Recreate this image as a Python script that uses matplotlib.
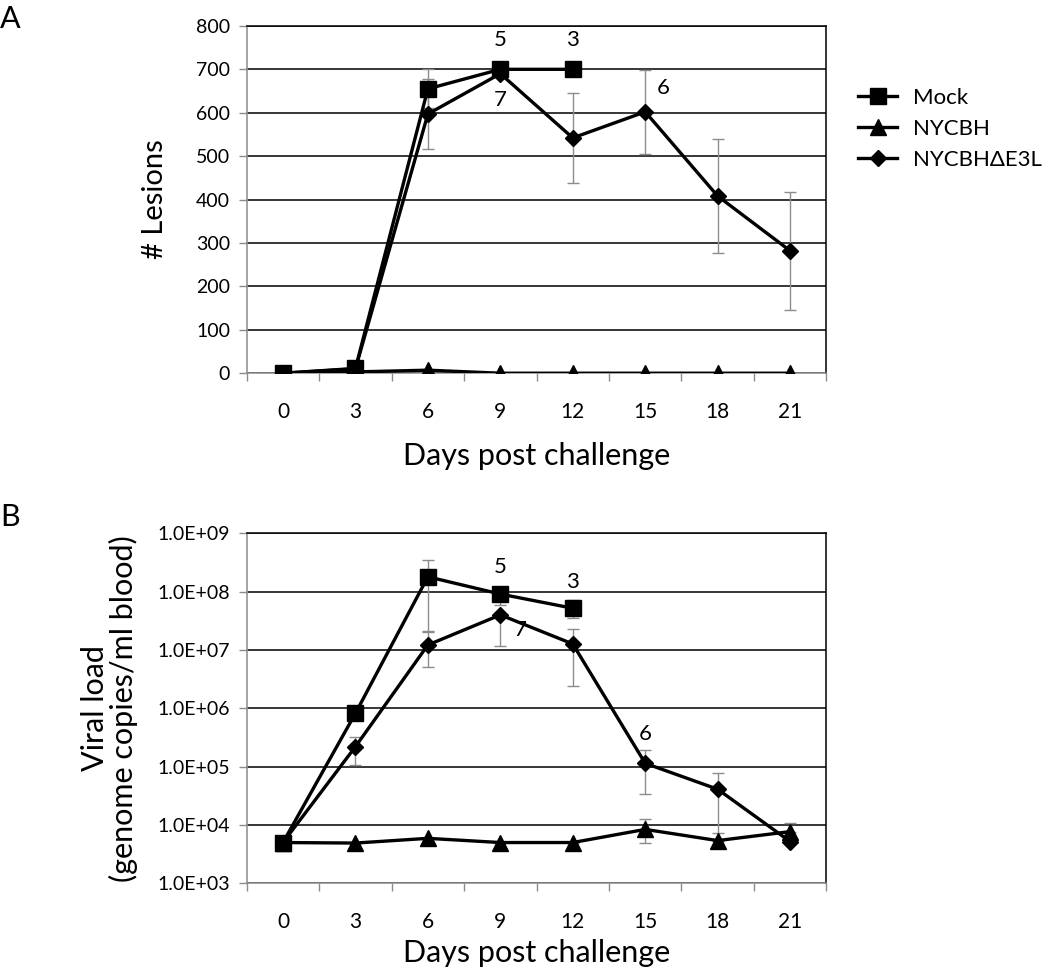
import numpy as np
import matplotlib
matplotlib.use("Agg")
from matplotlib import pyplot as plt
from matplotlib.ticker import FixedLocator, NullFormatter

plt.rcParams['font.family'] = ['Lato', 'DejaVu Sans']

# dias apos o desafio
dias = [0, 3, 6, 9, 12, 15, 18, 21]

# A: numero de lesoes
lesoes_mock = [0, 11, 655, 700, 700]
lesoes_mock_err = [0, 0, 45, 0, 0]
lesoes_nycbh = [0, 3, 7, 0, 0, 0, 0, 0]
lesoes_e3l = [0, 10, 597, 690, 542, 602, 408, 282]
lesoes_e3l_err = [0, 0, 80, 0, 104, 97, 132, 136]

# B: carga viral
carga_mock = [5.0e3, 8.2e5, 1.8e8, 9.1e7, 5.2e7]
carga_mock_lo = [5.0e3, 8.2e5, 2.0e7, 5.8e7, 3.5e7]
carga_mock_hi = [5.0e3, 8.2e5, 3.5e8, 9.1e7, 7.2e7]
carga_nycbh = [5.0e3, 4.9e3, 5.9e3, 5.0e3, 5.0e3, 8.4e3, 5.4e3, 7.7e3]
carga_nycbh_lo = [5.0e3, 4.9e3, 5.9e3, 5.0e3, 5.0e3, 5.0e3, 5.4e3, 7.7e3]
carga_nycbh_hi = [5.0e3, 4.9e3, 5.9e3, 5.0e3, 5.0e3, 1.25e4, 5.4e3, 1.1e4]
carga_e3l = [5.0e3, 2.2e5, 1.22e7, 4.0e7, 1.27e7, 1.14e5, 4.1e4, 5.2e3]
carga_e3l_lo = [5.0e3, 1.07e5, 5.1e6, 1.15e7, 2.4e6, 3.4e4, 7.4e3, 5.2e3]
carga_e3l_hi = [5.0e3, 3.2e5, 2.1e7, 4.0e7, 2.3e7, 1.93e5, 7.7e4, 5.2e3]

pos = np.arange(len(dias))
cinza = "#8c8c8c"
estilo = dict(color="black", linewidth=2.4, zorder=4)

fig = plt.figure(figsize=(10.5, 9.77), dpi=100)
axA = fig.add_axes([0.235, 0.618, 0.552, 0.3555])
axB = fig.add_axes([0.235, 0.0959, 0.552, 0.3582])


def barras(ax, x, y, lo, hi):
    y = np.array(y)
    ax.errorbar(x, y, yerr=[y - np.array(lo), np.array(hi) - y], fmt="none",
                ecolor=cinza, elinewidth=1, capsize=4, capthick=1, zorder=3)


# ---- painel A
axA.errorbar(pos[:5], lesoes_mock, yerr=lesoes_mock_err, fmt="none", ecolor=cinza,
             elinewidth=1, capsize=4, capthick=1, zorder=3)
axA.errorbar(pos, lesoes_e3l, yerr=lesoes_e3l_err, fmt="none", ecolor=cinza,
             elinewidth=1, capsize=4, capthick=1, zorder=3)
lm, = axA.plot(pos[:5], lesoes_mock, marker="s", markersize=11, label="Mock", **estilo)
ln, = axA.plot(pos, lesoes_nycbh, marker="^", markersize=11, label="NYCBH", **estilo)
le, = axA.plot(pos, lesoes_e3l, marker="D", markersize=8, label="NYCBH\u0394E3L", **estilo)
axA.set_ylim(0, 800)
axA.set_yticks(range(0, 801, 100))
axA.set_ylabel("# Lesions", fontsize=21, labelpad=20)

# numero de animais
axA.annotate("5", (pos[3], lesoes_mock[3]), xytext=(0, 14), textcoords="offset points",
             ha="center", va="bottom", fontsize=16)
axA.annotate("3", (pos[4], lesoes_mock[4]), xytext=(0, 14), textcoords="offset points",
             ha="center", va="bottom", fontsize=16)
axA.annotate("7", (pos[3], lesoes_e3l[3]), xytext=(0, -12), textcoords="offset points",
             ha="center", va="top", fontsize=16)
axA.annotate("6", (pos[5], lesoes_e3l[5]), xytext=(8, 10), textcoords="offset points",
             ha="left", va="bottom", fontsize=16)

# ---- painel B
barras(axB, pos[:5], carga_mock, carga_mock_lo, carga_mock_hi)
barras(axB, pos, carga_nycbh, carga_nycbh_lo, carga_nycbh_hi)
barras(axB, pos, carga_e3l, carga_e3l_lo, carga_e3l_hi)
axB.plot(pos[:5], carga_mock, marker="s", markersize=11, **estilo)
axB.plot(pos, carga_nycbh, marker="^", markersize=11, **estilo)
axB.plot(pos, carga_e3l, marker="D", markersize=8, **estilo)
axB.set_yscale("log")
axB.set_ylim(1e3, 1e9)
axB.set_yticks([10.0 ** k for k in range(3, 10)])
axB.set_yticklabels(["1.0E+%02d" % k for k in range(3, 10)])
axB.yaxis.set_minor_locator(FixedLocator([]))
axB.set_ylabel("Viral load\n(genome copies/ml blood)", fontsize=22, labelpad=14,
               linespacing=1.0)

axB.annotate("5", (pos[3], carga_mock[3]), xytext=(0, 12), textcoords="offset points",
             ha="center", va="bottom", fontsize=16)
axB.annotate("3", (pos[4], carga_mock[4]), xytext=(0, 12), textcoords="offset points",
             ha="center", va="bottom", fontsize=16)
axB.annotate("7", (pos[3], carga_e3l[3]), xytext=(10, -4), textcoords="offset points",
             ha="left", va="top", fontsize=16)
axB.annotate("6", (pos[5], carga_e3l[5]), xytext=(0, 14), textcoords="offset points",
             ha="center", va="bottom", fontsize=16)

for ax in (axA, axB):
    ax.set_xlim(-0.5, len(dias) - 0.5)
    ax.set_xticks(pos)
    ax.set_xticklabels([str(d) for d in dias])
    ax.xaxis.set_minor_locator(FixedLocator(np.arange(-0.5, len(dias), 1)))
    ax.xaxis.set_minor_formatter(NullFormatter())
    ax.tick_params(axis="x", which="major", length=0, pad=21, labelsize=15)
    ax.tick_params(axis="x", which="minor", length=6, color=cinza, width=1)
    ax.tick_params(axis="y", which="major", length=6, color=cinza, width=1, labelsize=14, pad=6)
    ax.grid(True, axis="y", color="black", linewidth=1.1, zorder=0)
    ax.set_axisbelow(True)
    ax.spines["left"].set_color(cinza)
    ax.spines["bottom"].set_color(cinza)
    ax.spines["top"].set_color("black")
    ax.spines["right"].set_color("black")
    for s in ax.spines.values():
        s.set_linewidth(1.1)

axA.set_xlabel("Days post challenge", fontsize=22, labelpad=14)
axB.set_xlabel("Days post challenge", fontsize=22, labelpad=5)

fig.legend(handles=[lm, ln, le], loc="upper left", bbox_to_anchor=(0.809, 0.919),
           frameon=False, fontsize=16, handlelength=1.75, labelspacing=0.5,
           handletextpad=0.7, borderaxespad=0)

fig.text(0.0, 0.995, "A", fontsize=22, va="top", ha="left")
fig.text(0.0, 0.485, "B", fontsize=22, va="top", ha="left")

plt.savefig("out.png", dpi=100)
